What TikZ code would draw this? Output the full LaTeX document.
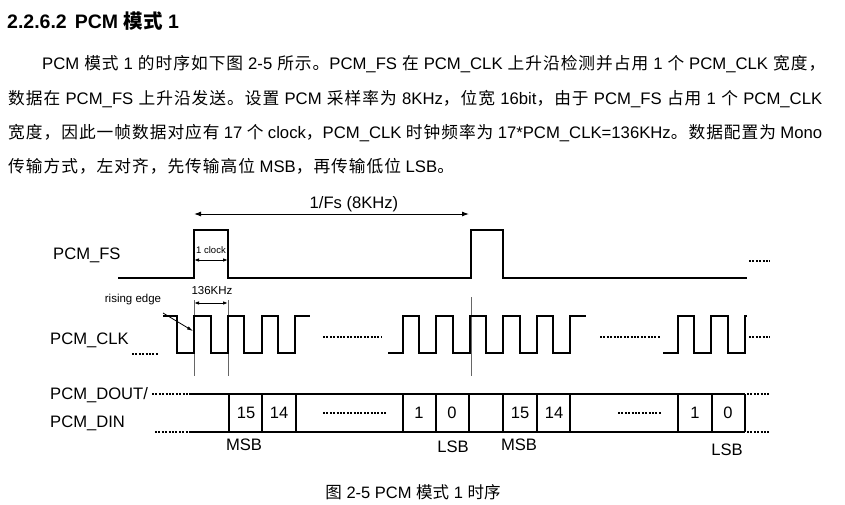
\documentclass[tikz,border=0pt]{standalone}
\usepackage{fontspec}
\setmainfont{Liberation Sans}
\newfontfamily\cjk[LetterSpace=6]{Noto Sans CJK SC}
\newfontfamily\cjkplain{Noto Sans CJK SC}
\newcommand\zh[1]{{\cjk #1}}
\usetikzlibrary{arrows.meta}
\tikzset{
  sig/.style={line width=1.5pt, line join=miter},
  guide/.style={line width=0.7pt, gray!80!black},
  dots/.style={line width=1.3pt, dash pattern=on 2pt off 1.4pt},
  lbl/.style={font=\fontsize{16.6}{19}\selectfont, inner sep=0pt},
  cell/.style={font=\fontsize{16.5}{19}\selectfont, inner sep=0pt},
  body/.style={font=\fontsize{16.7}{18}\selectfont, inner sep=0pt, anchor=west},
  dim/.style={line width=1pt, {Latex[length=7pt,width=5pt]}-{Latex[length=7pt,width=5pt]}},
  smalldim/.style={line width=1pt, {Latex[length=5pt,width=3.6pt]}-{Latex[length=5pt,width=3.6pt]}},
}
\begin{document}
\begin{tikzpicture}[x=1pt,y=-1pt]
\useasboundingbox (0,0) rectangle (845,504);
\fill[white] (0,0) rectangle (845,504);

% heading and paragraph
\node[inner sep=0pt, anchor=west, font=\fontsize{19.5}{22}\selectfont\bfseries] (head) at (7,21)
  {2.2.6.2\hspace{8pt}PCM {\cjkplain\bfseries 模式} 1};
\node[body] (p1) at (42,64) {\makebox[783pt][s]{PCM \zh{模式} 1 \zh{的时序如下图} 2-5 \zh{所示。}PCM\_FS \zh{在} PCM\_CLK \zh{上升沿检测并占用} 1 \zh{个} PCM\_CLK \zh{宽度，}}};
\node[body] (p2) at (8,99) {\makebox[814pt][s]{\zh{数据在} PCM\_FS \zh{上升沿发送。设置} PCM \zh{采样率为} 8KHz\zh{，位宽} 16bit\zh{，由于} PCM\_FS \zh{占用} 1 \zh{个} PCM\_CLK}};
\node[body] (p3) at (8,133) {\makebox[814pt][s]{\zh{宽度，因此一帧数据对应有} 17 \zh{个} clock\zh{，}PCM\_CLK \zh{时钟频率为} 17*PCM\_CLK=136KHz\zh{。数据配置为} Mono}};
\node[body] (p4) at (8,166) {\zh{传输方式，左对齐，先传输高位} MSB\zh{，再传输低位} LSB\zh{。}};

% signal names
\node[lbl, anchor=west] (nfs) at (53,255) {PCM\_FS};
\node[lbl, anchor=west] (nclk) at (50,340) {PCM\_CLK};
\node[lbl, anchor=west] (ndout) at (50,395) {PCM\_DOUT/};
\node[lbl, anchor=west] (ndin) at (50,423) {PCM\_DIN};

% 1/Fs arrow
\coordinate (fsa) at (194,214);
\coordinate (fsb) at (469,214);
\draw[dim] (fsa) -- (fsb);
\node[lbl] (nfsper) at (354,204) {1/Fs (8KHz)};

% PCM_FS waveform
\draw[sig] (118,278) -- (194,278) -- (194,230) -- (228,230) -- (228,278) -- (471,278) -- (471,230) -- (503,230) -- (503,278) -- (747,278);
\draw[dots] (749,261) -- (770,261);

% 1 clock
\coordinate (ca) at (194,260);
\coordinate (cb) at (228,260);
\draw[smalldim] (ca) -- (cb);
\node[inner sep=0pt, font=\fontsize{9.5}{11}\selectfont] (nclock) at (211,250) {1 clock};

% 136KHz
\coordinate (ka) at (194,303);
\coordinate (kb) at (228,303);
\draw[smalldim] (ka) -- (kb);
\node[inner sep=0pt, font=\fontsize{11.5}{13}\selectfont] (nkhz) at (212,291) {136KHz};

% rising edge
\node[inner sep=0pt, font=\fontsize{11.5}{13}\selectfont] (nrise) at (133,300) {rising edge};
\coordinate (ra) at (163,313);
\coordinate (rb) at (193,331);
\draw[line width=0.8pt, -{Latex[length=6pt,width=3.5pt]}] (ra) -- (rb);

% guide lines
\draw[guide] (194,300) -- (194,376);
\draw[guide] (228,300) -- (228,376);
\draw[guide] (471,297) -- (471,376);

% PCM_CLK waveform
\draw[dots] (132,354) -- (159,354);
\draw[sig] (163,316) -- (177,316) -- (177,353) -- (194,353) -- (194,316) -- (211,316) -- (211,353) -- (228,353) -- (228,316) -- (244,316) -- (244,353) -- (262,353) -- (262,316) -- (278,316) -- (278,353) -- (295,353) -- (295,316) -- (310,316);
\draw[dots] (323,337) -- (382,337);
\draw[sig] (388,353) -- (403,353) -- (403,316) -- (419,316) -- (419,353) -- (436,353) -- (436,316) -- (453,316) -- (453,353) -- (470,353) -- (470,316) -- (486,316) -- (486,353) -- (503,353) -- (503,316) -- (520,316) -- (520,353) -- (537,353) -- (537,316) -- (553,316) -- (553,353) -- (570,353) -- (570,316) -- (586,316);
\draw[dots] (600,337) -- (660,337);
\draw[sig] (663,353) -- (678,353) -- (678,316) -- (694,316) -- (694,353) -- (711,353) -- (711,316) -- (728,316) -- (728,353) -- (745,353) -- (745,316) -- (747,316);
\draw[dots] (749,337) -- (770,337);

% data bus
\draw[dots] (152,394) -- (190,394);
\draw[dots] (155,432) -- (190,432);
\draw[sig] (190,394) -- (745,394);
\draw[sig] (190,432) -- (745,432);
\foreach \xx in {229,262,296,403,436,469,503,537,570,678,712,745}
  \draw[sig] (\xx,394) -- (\xx,432);
\draw[dots] (747,394) -- (770,394);
\draw[dots] (747,432) -- (770,432);
\draw[dots] (323,413) -- (386,413);
\draw[dots] (618,413) -- (662,413);

\node[cell] (c15a) at (246,413) {15};
\node[cell] (c14a) at (279,413) {14};
\node[cell] (c1a) at (419,413) {1};
\node[cell] (c0a) at (452,413) {0};
\node[cell] (c15b) at (520,413) {15};
\node[cell] (c14b) at (554,413) {14};
\node[cell] (c1b) at (695,413) {1};
\node[cell] (c0b) at (728,413) {0};

\node[lbl] (msb1) at (244,445) {MSB};
\node[lbl] (lsb1) at (453,447) {LSB};
\node[lbl] (msb2) at (519,445) {MSB};
\node[lbl] (lsb2) at (727,450) {LSB};

% caption
\node[inner sep=0pt, font=\fontsize{16.5}{18}\selectfont] (cap) at (413,492) {{\cjkplain 图} 2-5 PCM {\cjkplain 模式} 1 {\cjkplain 时序}};
\end{tikzpicture}
\end{document}
